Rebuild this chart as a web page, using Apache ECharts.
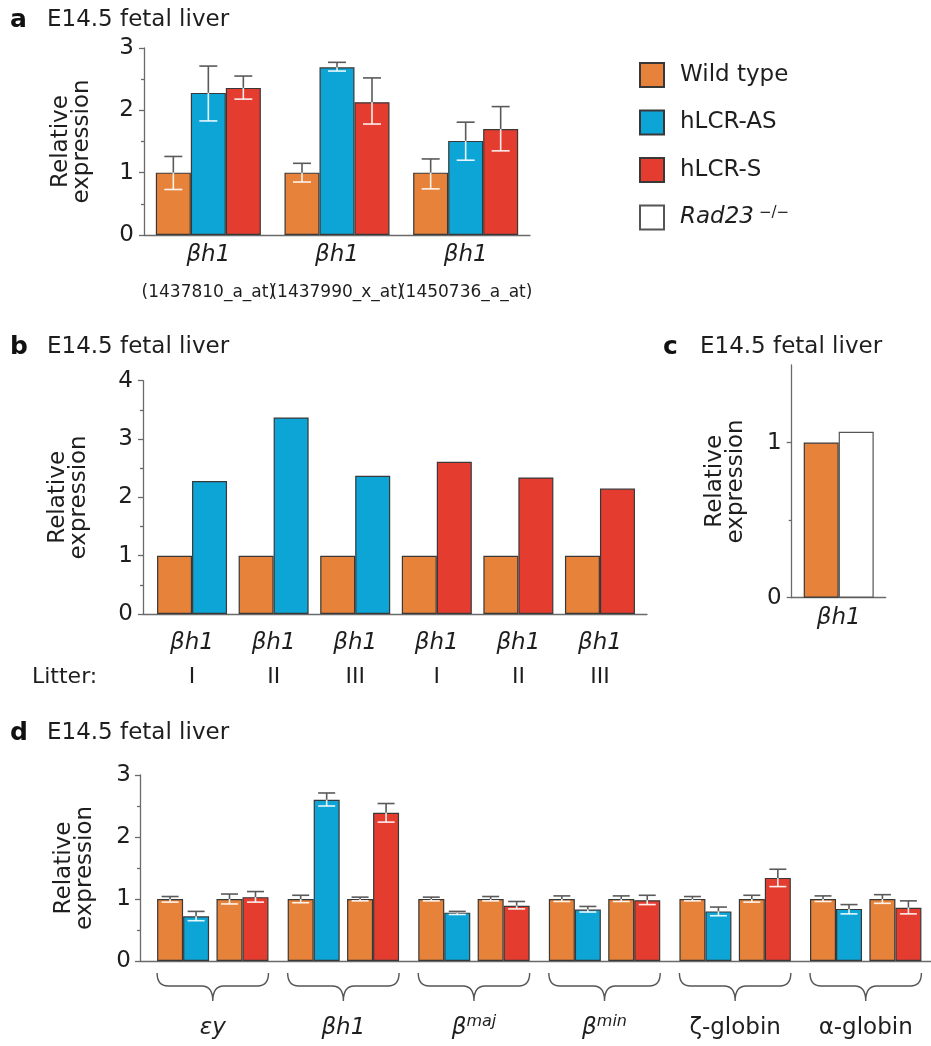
<!DOCTYPE html>
<html><head><meta charset="utf-8">
<script src="https://cdn.jsdelivr.net/npm/echarts@6/dist/echarts.min.js"></script>
<style>html,body{margin:0;padding:0;background:#fff}#c{width:931px;height:1046px}</style>
</head><body><div id="c"></div>
<script>
// ---------------- DATA ----------------
// Panel a
const aGenes = ['βh1', 'βh1', 'βh1'];
const aProbes = ['(1437810_a_at)', '(1437990_x_at)', '(1450736_a_at)'];
const aWT = [1.00, 1.00, 1.00];
const aWTLow = [0.73, 0.85, 0.74];
const aWTHigh = [1.26, 1.15, 1.22];
const aAS = [2.28, 2.69, 1.51];
const aASLow = [1.83, 2.63, 1.20];
const aASHigh = [2.71, 2.77, 1.81];
const aS = [2.36, 2.13, 1.70];
const aSLow = [2.18, 1.78, 1.35];
const aSHigh = [2.55, 2.52, 2.06];

// Panel b
const bGenes = ['βh1', 'βh1', 'βh1', 'βh1', 'βh1', 'βh1'];
const bLitters = ['I', 'II', 'III', 'I', 'II', 'III'];
const bWT = [1, 1, 1, 1, 1, 1];
const bAS = [2.28, 3.37, 2.37, '-', '-', '-'];
const bS = ['-', '-', '-', 2.61, 2.34, 2.15];

// Panel c
const cGenes = ['βh1'];
const cWT = [1.00];
const cRad23 = [1.07];

// Panel d
const dGenes = ['εy', 'βh1', 'β^maj', 'β^min', 'ζ-globin', 'α-globin'];
const dItalic = [true, true, true, true, false, false];
const dWT1 = [1, 1, 1, 1, 1, 1];
const dWT1Low = [0.95, 0.94, 0.97, 0.96, 0.97, 0.96];
const dWT1High = [1.04, 1.06, 1.03, 1.05, 1.04, 1.05];
const dAS = [0.72, 2.60, 0.78, 0.83, 0.80, 0.84];
const dASLow = [0.65, 2.50, 0.75, 0.79, 0.73, 0.76];
const dASHigh = [0.80, 2.71, 0.80, 0.88, 0.87, 0.91];
const dWT2 = [1, 1, 1, 1, 1, 1];
const dWT2Low = [0.92, 0.97, 0.97, 0.96, 0.95, 0.93];
const dWT2High = [1.08, 1.03, 1.04, 1.05, 1.06, 1.07];
const dS = [1.03, 2.39, 0.89, 0.98, 1.34, 0.86];
const dSLow = [0.95, 2.24, 0.84, 0.91, 1.20, 0.76];
const dSHigh = [1.12, 2.54, 0.96, 1.06, 1.48, 0.97];

const legendNames = ['Wild type', 'hLCR-AS', 'hLCR-S', 'Rad23 −/−'];
const panelTitle = 'E14.5 fetal liver';

// ---------------- STYLE ----------------
const FONT = "'DejaVu Sans', sans-serif";
const TXT = '#1e1e1e';
const AX = '#6a6a6a';
const ORANGE = '#E6823A', BLUE = '#0DA5D5', RED = '#E43D30';
const BORDER = { borderColor: '#383838', borderWidth: 1.2 };

const chart = echarts.init(document.getElementById('c'), null, { renderer: 'canvas' });

function errSeries(name, xi, yi, mean, lo, hi, offset, capW) {
  return {
    type: 'custom', name: name, xAxisIndex: xi, yAxisIndex: yi, z: 5,
    encode: { x: 0, y: 1 },
    data: mean.map((m, i) => [i, m, lo[i], hi[i]]),
    renderItem: function (params, api) {
      const i = api.value(0);
      const pm = api.coord([i, api.value(1)]);
      const x = pm[0] + offset, yM = pm[1];
      const yHi = api.coord([i, api.value(3)])[1];
      const yLo = api.coord([i, api.value(2)])[1];
      const dark = { stroke: '#5a5a5a', lineWidth: 1.6 };
      const light = { stroke: 'rgba(255,255,255,0.9)', lineWidth: 1.6 };
      return { type: 'group', children: [
        { type: 'line', shape: { x1: x, y1: yM, x2: x, y2: yHi }, style: dark },
        { type: 'line', shape: { x1: x - capW / 2, y1: yHi, x2: x + capW / 2, y2: yHi }, style: dark },
        { type: 'line', shape: { x1: x, y1: yM, x2: x, y2: yLo }, style: light },
        { type: 'line', shape: { x1: x - capW / 2, y1: yLo, x2: x + capW / 2, y2: yLo }, style: light }
      ] };
    }
  };
}

function valueAxis(gi, max, gap, extra) {
  return Object.assign({
    type: 'value', gridIndex: gi, min: 0, max: max, interval: 1, position: 'left',
    name: 'Relative\nexpression', nameLocation: 'middle', nameRotate: 90, nameGap: gap,
    nameTextStyle: { fontFamily: FONT, fontSize: 23, lineHeight: 21, color: TXT },
    axisLine: { show: true, lineStyle: { color: AX, width: 1.3 } },
    axisTick: { show: true, length: 5, lineStyle: { color: AX, width: 1.3 } },
    minorTick: { show: true, splitNumber: 2, length: 3, lineStyle: { color: AX, width: 1.3 } },
    splitLine: { show: false },
    axisLabel: { fontFamily: FONT, fontSize: 23, color: TXT, margin: 10 }
  }, extra || {});
}
function hiddenValueAxis(gi, max) {
  return { type: 'value', gridIndex: gi, min: 0, max: max, show: false, splitLine: { show: false } };
}
function lineOnlyXAxis(gi) {
  return { type: 'category', gridIndex: gi, data: [''],
    axisLine: { show: true, lineStyle: { color: AX, width: 1.3 } },
    axisTick: { show: false }, axisLabel: { show: false } };
}

const titleRich = {
  b: { fontFamily: FONT, fontWeight: 'bold', fontSize: 25, color: '#111', width: 37, lineHeight: 28 },
  t: { fontFamily: FONT, fontWeight: 'normal', fontSize: 23, color: TXT, lineHeight: 28 }
};
function mkTitle(letter, left, top) {
  return { text: '{b|' + letter + '}{t|' + panelTitle + '}', left: left, top: top, padding: 0,
    textStyle: { fontWeight: 'normal', rich: titleRich } };
}

const labelItalic = { fontFamily: FONT, fontStyle: 'italic', fontSize: 23, color: TXT };

// Panel d layout constants (bar widths)
const dBar = 26, dSpacer = 7.4;
const dHalf = (4 * dBar + dSpacer) / 2;

const option = {
  animation: false,
  backgroundColor: '#fff',
  title: [
    mkTitle('a', 10, 6),
    mkTitle('b', 10, 333),
    mkTitle('c', 663, 333),
    mkTitle('d', 10, 719),
    { text: 'Litter:', left: 32, top: 663, padding: 0,
      textStyle: { fontFamily: FONT, fontSize: 22, color: TXT, fontWeight: 'normal', lineHeight: 28 } }
  ],
  legend: {
    data: legendNames, orient: 'vertical', left: 639, top: 62, padding: 0,
    itemWidth: 24, itemHeight: 24, itemGap: 21.5, icon: 'rect', selectedMode: false,
    formatter: function (name) {
      if (name.indexOf('Rad23') === 0) return '{it|Rad23}{sup|−/−}';
      return '{n|' + name + '}';
    },
    textStyle: { fontFamily: FONT, fontSize: 23, color: TXT, rich: {
      n: { fontFamily: FONT, fontSize: 23, color: TXT, padding: [0, 0, 0, 11], lineHeight: 24 },
      it: { fontFamily: FONT, fontSize: 23, fontStyle: 'italic', color: TXT, padding: [0, 0, 0, 11], lineHeight: 24 },
      sup: { fontFamily: FONT, fontSize: 15, color: TXT, verticalAlign: 'top', lineHeight: 12, padding: [0, 0, 0, 5] }
    } }
  },
  grid: [
    { left: 144, top: 48, width: 386, height: 187 },          // 0 a
    { left: 143, top: 380.7, width: 504, height: 233.3 },     // 1 b frame
    { left: 151.25, top: 380.7, width: 489.5, height: 233.3 },// 2 b bars
    { left: 791.7, top: 365, width: 94, height: 232.7 },      // 3 c
    { left: 140, top: 775, width: 791, height: 186 },         // 4 d frame
    { left: 147.5, top: 775, width: 788.5, height: 186 }      // 5 d bars
  ],
  xAxis: [
    { type: 'category', gridIndex: 0, data: aGenes,
      axisLine: { lineStyle: { color: AX, width: 1.3 } }, axisTick: { show: false },
      axisLabel: { margin: 5, interval: 0,
        formatter: (v, i) => '{i|' + v + '}\n{p|' + aProbes[i] + '}',
        rich: { i: Object.assign({ lineHeight: 30 }, labelItalic),
                p: { fontFamily: FONT, fontSize: 17, color: TXT, lineHeight: 46 } } } },
    lineOnlyXAxis(1),
    { type: 'category', gridIndex: 2, data: bGenes,
      axisLine: { show: false }, axisTick: { show: false },
      axisLabel: { margin: 14, interval: 0,
        formatter: (v, i) => '{i|' + v + '}\n{r|' + bLitters[i] + '}',
        rich: { i: Object.assign({ lineHeight: 30 }, labelItalic),
                r: { fontFamily: FONT, fontSize: 22, color: TXT, lineHeight: 38 } } } },
    { type: 'category', gridIndex: 3, data: cGenes,
      axisLine: { lineStyle: { color: AX, width: 1.3 } }, axisTick: { show: false },
      axisLabel: { margin: 5, formatter: v => '{i|' + v + '}',
        rich: { i: Object.assign({ lineHeight: 30 }, labelItalic) } } },
    lineOnlyXAxis(4),
    { type: 'category', gridIndex: 5, data: dGenes,
      axisLine: { show: false }, axisTick: { show: false },
      axisLabel: { margin: 53, interval: 0,
        formatter: function (v, i) {
          const st = dItalic[i] ? 'i' : 'u';
          const parts = v.split('^');
          return '{' + st + '|' + parts[0] + '}' + (parts[1] ? '{s|' + parts[1] + '}' : '');
        },
        rich: { i: Object.assign({ lineHeight: 28 }, labelItalic),
                u: { fontFamily: FONT, fontSize: 23, color: TXT, lineHeight: 28 },
                s: { fontFamily: FONT, fontStyle: 'italic', fontSize: 16, color: TXT, lineHeight: 16, verticalAlign: 'top' } } } }
  ],
  yAxis: [
    valueAxis(0, 3, 51),
    valueAxis(1, 4, 53),
    hiddenValueAxis(2, 4),
    valueAxis(3, 1.5, 45, { interval: 0.5, minorTick: { show: false },
      axisTick: { show: true, length: 5, customValues: [0, 1], lineStyle: { color: AX, width: 1.3 } },
      axisLabel: { fontFamily: FONT, fontSize: 23, color: TXT, margin: 10, customValues: [0, 1] } }),
    { type: 'value', gridIndex: 3, position: 'left', offset: 0, min: 0, max: 1.5, interval: 0.5, axisLine: { show: false },
      axisTick: { show: true, length: 3, customValues: [0.5], lineStyle: { color: AX, width: 1.3 } },
      axisLabel: { show: false }, splitLine: { show: false } },
    valueAxis(4, 3, 44, { axisLabel: { fontFamily: FONT, fontSize: 23, color: TXT, margin: 9 } }),
    hiddenValueAxis(5, 3)
  ],
  series: [
    // ---- a ----
    { type: 'bar', name: 'Wild type', xAxisIndex: 0, yAxisIndex: 0, data: aWT, barWidth: 35, barGap: 0,
      itemStyle: Object.assign({ color: ORANGE }, BORDER) },
    { type: 'bar', name: 'hLCR-AS', xAxisIndex: 0, yAxisIndex: 0, data: aAS, barWidth: 35, barGap: 0,
      itemStyle: Object.assign({ color: BLUE }, BORDER) },
    { type: 'bar', name: 'hLCR-S', xAxisIndex: 0, yAxisIndex: 0, data: aS, barWidth: 35, barGap: 0,
      itemStyle: Object.assign({ color: RED }, BORDER) },
    errSeries('errA1', 0, 0, aWT, aWTLow, aWTHigh, -35, 18),
    errSeries('errA2', 0, 0, aAS, aASLow, aASHigh, 0, 18),
    errSeries('errA3', 0, 0, aS, aSLow, aSHigh, 35, 18),
    // ---- b ----
    { type: 'bar', name: 'Wild type', xAxisIndex: 2, yAxisIndex: 2, data: bWT, barWidth: 35, barGap: 0,
      itemStyle: Object.assign({ color: ORANGE }, BORDER) },
    { type: 'bar', name: 'hLCR-AS', stack: 'tg', xAxisIndex: 2, yAxisIndex: 2, data: bAS, barWidth: 35, barGap: 0,
      itemStyle: Object.assign({ color: BLUE }, BORDER) },
    { type: 'bar', name: 'hLCR-S', stack: 'tg', xAxisIndex: 2, yAxisIndex: 2, data: bS, barWidth: 35, barGap: 0,
      itemStyle: Object.assign({ color: RED }, BORDER) },
    // ---- c ----
    { type: 'bar', name: 'Wild type', xAxisIndex: 3, yAxisIndex: 3, data: cWT, barWidth: 35, barGap: 0,
      itemStyle: Object.assign({ color: ORANGE }, BORDER) },
    { type: 'bar', name: 'Rad23 −/−', xAxisIndex: 3, yAxisIndex: 3, data: cRad23, barWidth: 35, barGap: 0,
      itemStyle: { color: '#ffffff', borderColor: '#555', borderWidth: 1.2 } },
    // ---- d ----
    { type: 'bar', name: 'Wild type', xAxisIndex: 5, yAxisIndex: 6, data: dWT1, barWidth: dBar, barGap: 0,
      itemStyle: Object.assign({ color: ORANGE }, BORDER) },
    { type: 'bar', name: 'hLCR-AS', xAxisIndex: 5, yAxisIndex: 6, data: dAS, barWidth: dBar, barGap: 0,
      itemStyle: Object.assign({ color: BLUE }, BORDER) },
    { type: 'bar', name: 'spacer', xAxisIndex: 5, yAxisIndex: 6, data: [], barWidth: dSpacer, barGap: 0 },
    { type: 'bar', name: 'Wild type', xAxisIndex: 5, yAxisIndex: 6, data: dWT2, barWidth: dBar, barGap: 0,
      itemStyle: Object.assign({ color: ORANGE }, BORDER) },
    { type: 'bar', name: 'hLCR-S', xAxisIndex: 5, yAxisIndex: 6, data: dS, barWidth: dBar, barGap: 0,
      itemStyle: Object.assign({ color: RED }, BORDER) },
    errSeries('errD1', 5, 6, dWT1, dWT1Low, dWT1High, -dHalf + dBar / 2, 17),
    errSeries('errD2', 5, 6, dAS, dASLow, dASHigh, -dHalf + 1.5 * dBar, 17),
    errSeries('errD3', 5, 6, dWT2, dWT2Low, dWT2High, dHalf - 1.5 * dBar, 17),
    errSeries('errD4', 5, 6, dS, dSLow, dSHigh, dHalf - dBar / 2, 17),
    { type: 'custom', name: 'braces', xAxisIndex: 5, yAxisIndex: 6, silent: true,
      data: dGenes.map((g, i) => [i, 0]), encode: { x: 0, y: 1 },
      renderItem: function (params, api) {
        const p = api.coord([api.value(0), 0]);
        const cx = p[0], y0 = p[1];
        const x0 = cx - dHalf, x1 = cx + dHalf;
        const yA = y0 + 12, yB = y0 + 25, yC = y0 + 40, r = 11;
        const d = 'M' + x0 + ',' + yA + ' Q' + x0 + ',' + yB + ' ' + (x0 + r) + ',' + yB +
          ' L' + (cx - r) + ',' + yB + ' Q' + cx + ',' + yB + ' ' + cx + ',' + yC +
          ' Q' + cx + ',' + yB + ' ' + (cx + r) + ',' + yB +
          ' L' + (x1 - r) + ',' + yB + ' Q' + x1 + ',' + yB + ' ' + x1 + ',' + yA;
        return { type: 'path', shape: { pathData: d }, style: { stroke: '#555', fill: 'none', lineWidth: 1.4 } };
      } }
  ]
};
chart.setOption(option);
</script></body></html>
